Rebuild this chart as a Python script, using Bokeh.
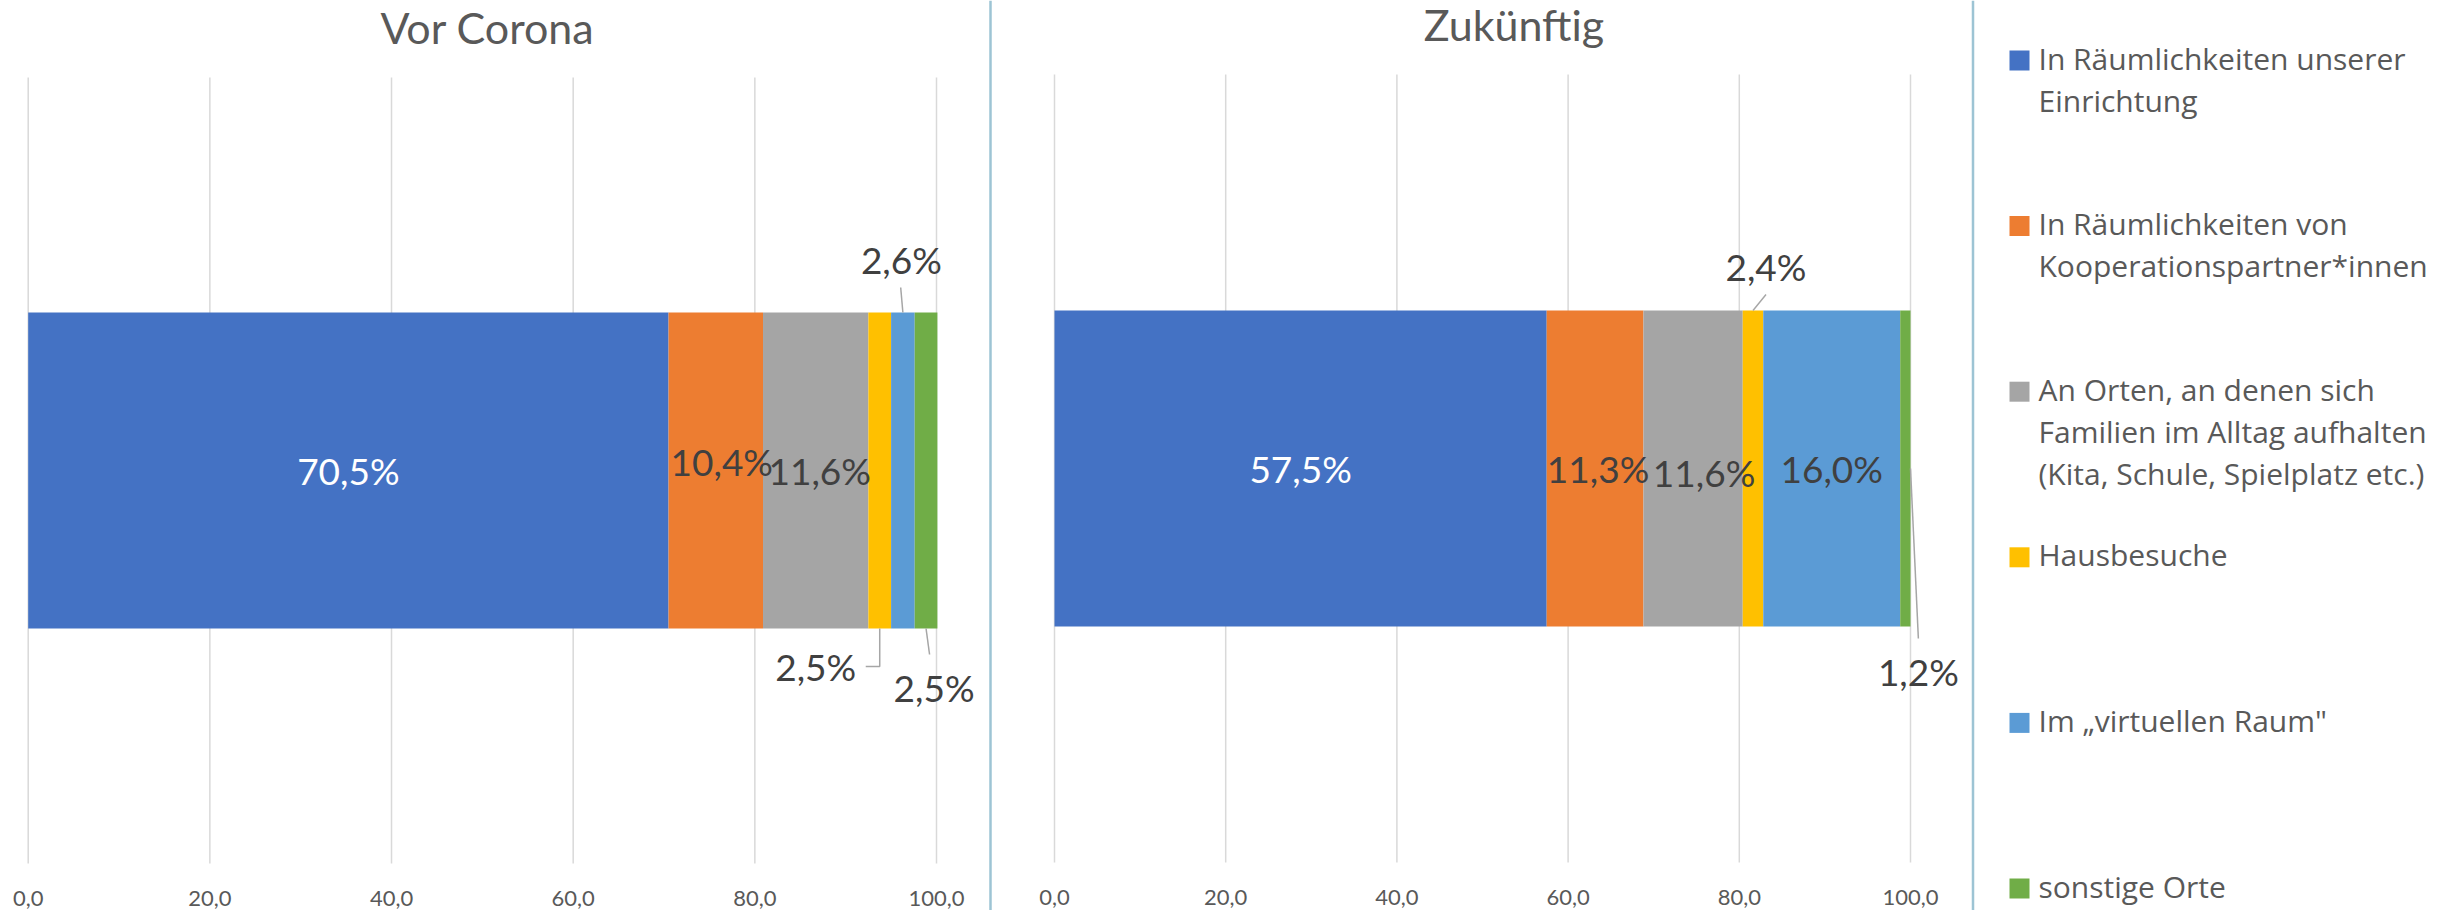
import numpy as np
from bokeh.plotting import figure
from bokeh.models import ColumnDataSource, Range1d, FixedTicker, LinearAxis, Span
from bokeh.core.properties import value
from bokeh.embed import file_html
from bokeh.resources import INLINE

# ---------------- data ----------------
categories = [
    "In Räumlichkeiten unserer\nEinrichtung",
    "In Räumlichkeiten von\nKooperationspartner*innen",
    "An Orten, an denen sich\nFamilien im Alltag aufhalten\n(Kita, Schule, Spielplatz etc.)",
    "Hausbesuche",
    "Im „virtuellen Raum\"",
    "sonstige Orte",
]
vor_corona = [70.5, 10.4, 11.6, 2.5, 2.6, 2.5]
zukuenftig = [57.5, 11.3, 11.6, 2.4, 16.0, 1.2]
panel_titles = ["Vor Corona", "Zukünftig"]
tick_values = [0, 20, 40, 60, 80, 100]
tick_labels = ["0,0", "20,0", "40,0", "60,0", "80,0", "100,0"]
colors = ["#4472C4", "#ED7D31", "#A5A5A5", "#FFC000", "#5B9BD5", "#70AD47"]

# ---------------- style / layout ----------------
W, H = 2448, 910
FONT = "Lato"
LEG_FONT = "Open Sans"
DARK = "#404040"
GREY_TXT = "#595959"
GRID = "#D9D9D9"
LEADER = "#A6A6A6"
SEP = "#9DC4D4"
BAR_H = 316

p = figure(width=W, height=H, x_range=Range1d(0, W), y_range=Range1d(H, 0),
           x_axis_type=None, y_axis_type=None, toolbar_location=None,
           output_backend="svg", min_border=0, outline_line_color=None)

# panel geometry: (range name, px of value 0, px per unit, grid top, grid bottom,
#                  bar centre y, title centre x, title centre y)
panels = [
    ("vor", 27.7, 9.083, 77, 863, 470, 487, 27),
    ("zuk", 1054.0, 8.56, 74, 862, 468, 1513.5, 24),
]
p.extra_x_ranges = {name: Range1d(-z / k, (W - z) / k) for name, z, k, *_ in panels}


def fmt(v):
    return f"{v:.1f}".replace(".", ",") + "%"


# label offsets (screen px, right / down) per segment
label_offsets = [
    [(0, 0), (6, -9), (4, 0), (-64, 196), (-1.5, -211), (8, 217)],
    [(0, 0), (3, 0), (11, 4), (13, -202), (0, 0), (13, 203)],
]
lab_cols = ["white", DARK, DARK, DARK, DARK, DARK]

for pi, (values, title) in enumerate(zip([vor_corona, zukuenftig], panel_titles)):
    name, z, k, gt, gb, cy, tcx, tcy = panels[pi]

    # gridlines at the tick values
    p.segment(x0=tick_values, x1=tick_values, y0=[gt] * len(tick_values),
              y1=[gb] * len(tick_values), x_range_name=name,
              line_color=GRID, line_width=1.5)

    # axis with tick labels
    ax = LinearAxis(x_range_name=name, fixed_location=gb,
                    ticker=FixedTicker(ticks=tick_values),
                    major_label_overrides={v: l for v, l in zip(tick_values, tick_labels)})
    ax.axis_line_color = None
    ax.major_tick_line_color = None
    ax.minor_tick_line_color = None
    ax.major_label_text_font = FONT
    ax.major_label_text_font_size = "22px"
    ax.major_label_text_color = GREY_TXT
    ax.major_label_standoff = 21
    p.add_layout(ax, "below")

    vals = np.array(values, dtype=float)
    right = np.cumsum(vals)
    left = right - vals
    src = ColumnDataSource(dict(left=left, right=right, y=[cy] * len(vals), color=colors))
    p.hbar(y="y", left="left", right="right", height=BAR_H, x_range_name=name,
           fill_color="color", line_color=None, source=src)

    cx = (left + right) / 2
    offs = label_offsets[pi]
    tx = [c + o[0] / k for c, o in zip(cx, offs)]
    ty = [cy + o[1] for o in offs]
    lsrc = ColumnDataSource(dict(x=tx, y=ty, text=[fmt(v) for v in vals], c=lab_cols))
    p.text(x="x", y="y", text="text", text_color="c", source=lsrc, x_range_name=name,
           text_font=value(FONT), text_font_size="37px",
           text_align="center", text_baseline="middle")

    top, bot = cy - BAR_H / 2, cy + BAR_H / 2
    if pi == 0:
        xs = [[cx[3], cx[3], tx[3] + 50 / k],
              [cx[4], tx[4] - 0.7 / k],
              [cx[5], tx[5] - 4.5 / k]]
        ys = [[bot, ty[3], ty[3]],
              [top, ty[4] + 28],
              [bot, ty[5] - 33]]
    else:
        xs = [[cx[3], tx[3]],
              [right[5], tx[5]]]
        ys = [[top, ty[3] + 28],
              [cy, ty[5] - 33]]
    p.multi_line(xs=xs, ys=ys, x_range_name=name, line_color=LEADER, line_width=1.5)

    p.text(x=[tcx], y=[tcy], text=[title], text_font=value(FONT), text_font_size="43px",
           text_color=GREY_TXT, text_align="center", text_baseline="middle")

# separators between the three areas
for loc in (990, 1972.5):
    p.add_layout(Span(location=loc, dimension="height", line_color=SEP, line_width=2.5))

# legend
step = 165.6
n = len(categories)
p.rect(x=[2019] * n, y=[60 + i * step for i in range(n)], width=20, height=20,
       fill_color=colors, line_color=None)
lx, ly, lt = [], [], []
for i, cat in enumerate(categories):
    for j, line in enumerate(cat.split("\n")):
        lx.append(2038)
        ly.append(57.5 + i * step + j * 42)
        lt.append(line)
p.text(x=lx, y=ly, text=lt, text_font=value(LEG_FONT), text_font_size="30px",
       text_color=GREY_TXT, text_align="left", text_baseline="middle")

open("out.html", "w").write(file_html(p, INLINE))
